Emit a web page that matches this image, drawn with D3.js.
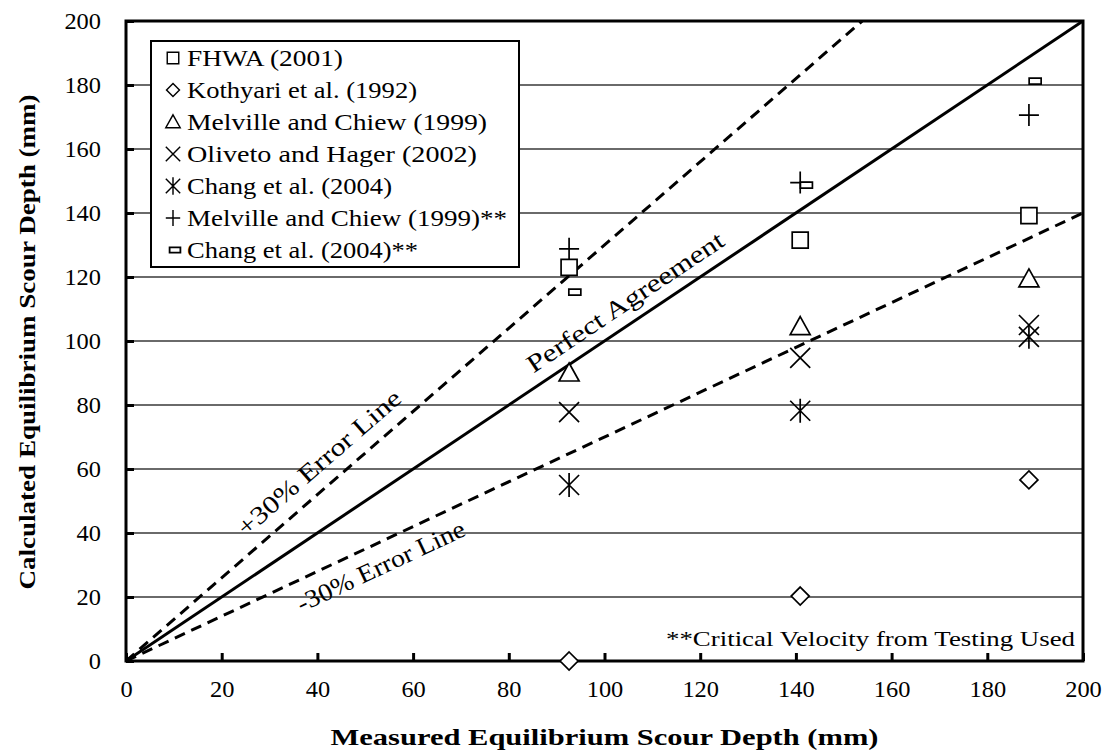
<!DOCTYPE html>
<html>
<head>
<meta charset="utf-8">
<script src="https://cdn.jsdelivr.net/npm/d3@7/dist/d3.min.js"></script>
<style>
  html, body { margin: 0; padding: 0; background: #fff; }
  svg text { font-family: "Liberation Serif", "Times New Roman", Times, serif; fill: #000; }
</style>
</head>
<body>
<svg id="chart" width="1112" height="753"></svg>
<script>
// Measured depths (mm) for the three test conditions
const measured = [92.6, 140.9, 188.7];
const measuredCrit = [93.8, 142.2, 190.0];

// Calculated equilibrium scour depth (mm) by method
const seriesNames = [
  "FHWA (2001)",
  "Kothyari et al. (1992)",
  "Melville and Chiew (1999)",
  "Oliveto and Hager (2002)",
  "Chang et al. (2004)",
  "Melville and Chiew (1999)**",
  "Chang et al. (2004)**"
];
const fhwa = [123.0, 131.5, 139.2];
const kothyari = [0.0, 20.3, 56.6];
const melville = [90.0, 104.5, 119.4];
const oliveto = [77.8, 94.7, 105.0];
const chang = [55.0, 78.2, 101.3];
const melvilleCrit = [128.8, 149.5, 170.6];
const changCrit = [115.3, 148.7, 181.2];

const xTicks = [0, 20, 40, 60, 80, 100, 120, 140, 160, 180, 200];
const yTicks = [0, 20, 40, 60, 80, 100, 120, 140, 160, 180, 200];

const FONT = "'Liberation Serif', 'Times New Roman', Times, serif";

const svg = d3.select("#chart");
const pLeft = 126, pRight = 1083, pTop = 21, pBottom = 661;

const x = d3.scaleLinear().domain([0, 200]).range([pLeft, pRight]);
const y = d3.scaleLinear().domain([0, 200]).range([pBottom, pTop]);

// horizontal gridlines
svg.append("g").selectAll("line")
  .data(yTicks.filter(d => d > 0 && d < 200))
  .join("line")
  .attr("x1", pLeft).attr("x2", pRight)
  .attr("y1", d => y(d)).attr("y2", d => y(d))
  .attr("stroke", "#6a6a6a").attr("stroke-width", 1.8);

// clip region for reference lines
svg.append("clipPath").attr("id", "plotClip")
  .append("rect").attr("x", pLeft).attr("y", pTop)
  .attr("width", pRight - pLeft).attr("height", pBottom - pTop);

const refLines = [
  { k: 1.0, dash: null },
  { k: 1.3, dash: "11,7" },
  { k: 0.7, dash: "11,7" }
];
const lineGen = d3.line().x(d => x(d[0])).y(d => y(d[1]));
svg.append("g").attr("clip-path", "url(#plotClip)")
  .selectAll("path").data(refLines).join("path")
  .attr("d", d => lineGen([[0, 0], [Math.min(200, 200 / d.k), Math.min(200, 200 / d.k) * d.k]]))
  .attr("fill", "none").attr("stroke", "#000").attr("stroke-width", 3)
  .attr("stroke-dasharray", d => d.dash);

// axis frame
svg.append("rect").attr("x", pLeft).attr("y", pTop)
  .attr("width", pRight - pLeft).attr("height", pBottom - pTop)
  .attr("fill", "none").attr("stroke", "#000").attr("stroke-width", 3);

// tick label width: one digit is about half an em in the chart's serif face
const tickWidth = d => String(d).length * 12.2;

// x axis ticks and labels
const xAxis = svg.append("g").attr("transform", `translate(0,${pBottom})`)
  .call(d3.axisBottom(x).tickValues(xTicks).tickSize(-8).tickPadding(19).tickFormat(d3.format("d")));
xAxis.attr("font-family", null);
xAxis.select(".domain").remove();
xAxis.selectAll(".tick line").attr("stroke", "#000").attr("stroke-width", 3);
xAxis.selectAll(".tick text").attr("font-size", 24).attr("dy", "0.71em").style("font-family", FONT)
  .attr("textLength", tickWidth).attr("lengthAdjust", "spacingAndGlyphs");

// y axis ticks and labels
const yAxis = svg.append("g").attr("transform", `translate(${pLeft},0)`)
  .call(d3.axisLeft(y).tickValues(yTicks).tickSize(-8).tickPadding(25).tickFormat(d3.format("d")));
yAxis.attr("font-family", null);
yAxis.select(".domain").remove();
yAxis.selectAll(".tick line").attr("stroke", "#000").attr("stroke-width", 3);
yAxis.selectAll(".tick text").attr("font-size", 24).style("font-family", FONT)
  .attr("textLength", tickWidth).attr("lengthAdjust", "spacingAndGlyphs");

// axis titles
svg.append("text").attr("x", (pLeft + pRight) / 2).attr("y", 745)
  .attr("text-anchor", "middle").attr("font-size", 24).attr("font-weight", "bold")
  .style("font-family", FONT)
  .attr("textLength", 548).attr("lengthAdjust", "spacingAndGlyphs")
  .text("Measured Equilibrium Scour Depth (mm)");
svg.append("text").attr("transform", "translate(35,342) rotate(-90)")
  .attr("text-anchor", "middle").attr("font-size", 24).attr("font-weight", "bold")
  .style("font-family", FONT)
  .attr("textLength", 495).attr("lengthAdjust", "spacingAndGlyphs")
  .text("Calculated Equilibrium Scour Depth (mm)");

// marker shapes
const shapes = {
  square: () => `M${-8},${-8}h16v16h-16Z`,
  diamond: () => `M0,-9L9,0L0,9L-9,0Z`,
  triangle: () => `M0,-10L10,8L-10,8Z`,
  cross: () => `M-10,-10L10,10M-10,10L10,-10`,
  star: () => `M-10,-10L10,10M-10,10L10,-10M0,-12V12`,
  plus: () => `M-10,0H10M0,-11V11`,
  dash: () => `M-6,-3h12v6h-12Z`
};
const series = [
  { name: seriesNames[0], xs: measured, ys: fhwa, shape: "square", w: 156 },
  { name: seriesNames[1], xs: measured, ys: kothyari, shape: "diamond", w: 230 },
  { name: seriesNames[2], xs: measured, ys: melville, shape: "triangle", w: 300 },
  { name: seriesNames[3], xs: measured, ys: oliveto, shape: "cross", w: 290 },
  { name: seriesNames[4], xs: measured, ys: chang, shape: "star", w: 205 },
  { name: seriesNames[5], xs: measured, ys: melvilleCrit, shape: "plus", w: 320 },
  { name: seriesNames[6], xs: measuredCrit, ys: changCrit, shape: "dash", w: 231 }
];

const markG = svg.append("g");
series.forEach(s => {
  markG.append("g").selectAll("path")
    .data(s.ys.map((v, i) => [s.xs[i], v]))
    .join("path")
    .attr("transform", d => `translate(${x(d[0])},${y(d[1])})`)
    .attr("d", shapes[s.shape]())
    .attr("fill", ["dash", "square", "diamond", "triangle"].includes(s.shape) ? "#fff" : "none")
    .attr("stroke", "#000").attr("stroke-width", 1.7);
});

// legend
const leg = svg.append("g");
leg.append("rect").attr("x", 151).attr("y", 41).attr("width", 368).attr("height", 226)
  .attr("fill", "#fff").attr("stroke", "#000").attr("stroke-width", 2);
series.forEach((s, i) => {
  const cy = 58 + i * 32;
  const g = leg.append("g").attr("transform", `translate(173,${cy})`);
  g.append("path")
    .attr("d", shapes[s.shape]())
    .attr("transform", s.shape === "dash" ? "translate(2,0) scale(0.9)" : "scale(0.72)")
    .attr("fill", "none").attr("stroke", "#000").attr("stroke-width", 2);
  leg.append("text").attr("x", 187).attr("y", cy + 8).attr("font-size", 23)
    .style("font-family", FONT)
    .attr("textLength", s.w).attr("lengthAdjust", "spacingAndGlyphs")
    .text(s.name);
});

// reference line labels
const slope = k => -Math.atan(k * (y(0) - y(1)) / (x(1) - x(0))) * 180 / Math.PI;
const lineLabels = [
  { k: 1.0, at: [105.3, 110.0], text: "Perfect Agreement", w: 232 },
  { k: 1.3, at: [41.5, 60.0], text: "+30% Error Line", w: 208 },
  { k: 0.7, at: [54.0, 27.3], text: "-30% Error Line", w: 183 }
];
svg.append("g").selectAll("text").data(lineLabels).join("text")
  .attr("transform", d => `translate(${x(d.at[0])},${y(d.at[1])}) rotate(${slope(d.k)})`)
  .attr("text-anchor", "middle").attr("font-size", 25)
  .style("font-family", FONT)
  .attr("textLength", d => d.w).attr("lengthAdjust", "spacingAndGlyphs")
  .text(d => d.text);

svg.append("text").attr("x", 1075).attr("y", 646).attr("text-anchor", "end")
  .attr("font-size", 22).style("font-family", FONT)
  .attr("textLength", 409).attr("lengthAdjust", "spacingAndGlyphs")
  .text("**Critical Velocity from Testing Used");
</script>
</body>
</html>
